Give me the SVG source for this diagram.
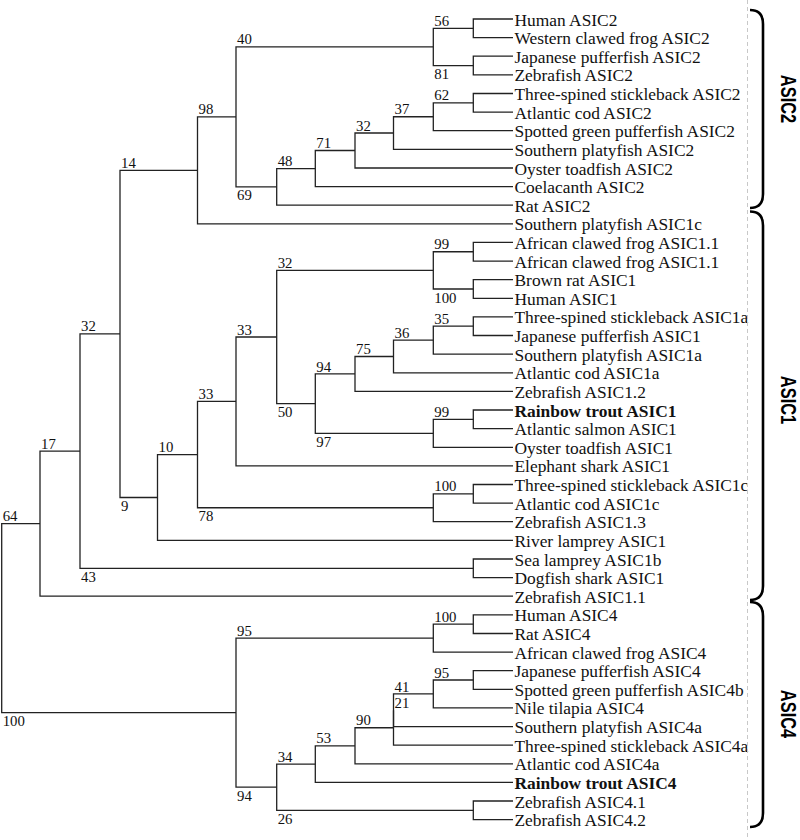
<svg xmlns="http://www.w3.org/2000/svg" width="800" height="840" viewBox="0 0 800 840">
<style>
.t{font-family:"Liberation Serif","Times New Roman",serif;font-size:17.4px;fill:#111}
.b{font-weight:bold}
.n{font-family:"Liberation Serif","Times New Roman",serif;font-size:14.8px;fill:#111}
.e{fill:none;stroke:#222;stroke-width:1.3}
.br{fill:none;stroke:#000;stroke-width:2.6}
.g{font-family:"Liberation Sans",Arial,sans-serif;font-weight:bold;font-size:16.4px;fill:#000}
</style>
<rect width="800" height="840" fill="#fff"/>
<g id="connectors">
<path class="e" d="M513,19 H473.3 V37.6 H513"/>
<path class="e" d="M513,56.2 H473.3 V74.9 H513"/>
<path class="e" d="M473.3,28.3 H433.3 V65.55 H473.3"/>
<path class="e" d="M513,93.5 H473.3 V112.1 H513"/>
<path class="e" d="M473.3,102.8 H433.3 V130.7 H513"/>
<path class="e" d="M433.3,116.75 H393.5 V149.3 H513"/>
<path class="e" d="M393.5,133 H355 V168 H513"/>
<path class="e" d="M355,150.5 H315.3 V186.6 H513"/>
<path class="e" d="M315.3,168.55 H276.7 V205.2 H513"/>
<path class="e" d="M433.3,46.9 H236 V186.9 H276.7"/>
<path class="e" d="M236,116.9 H197.5 V223.8 H513"/>
<path class="e" d="M513,242.4 H473.3 V261.1 H513"/>
<path class="e" d="M513,279.7 H473.3 V298.3 H513"/>
<path class="e" d="M473.3,251.75 H433.3 V289 H473.3"/>
<path class="e" d="M513,316.9 H473.3 V335.5 H513"/>
<path class="e" d="M473.3,326.2 H433.3 V354.2 H513"/>
<path class="e" d="M433.3,340.2 H393.5 V372.8 H513"/>
<path class="e" d="M393.5,356.5 H355 V391.4 H513"/>
<path class="e" d="M513,410 H473.3 V428.6 H513"/>
<path class="e" d="M473.3,419.3 H433.3 V447.3 H513"/>
<path class="e" d="M355,373.95 H315.3 V433.3 H433.3"/>
<path class="e" d="M433.3,270.4 H276.7 V403.6 H315.3"/>
<path class="e" d="M276.7,337 H236 V465.9 H513"/>
<path class="e" d="M513,484.5 H473.3 V503.1 H513"/>
<path class="e" d="M473.3,493.8 H433.3 V521.7 H513"/>
<path class="e" d="M236,401.45 H197.5 V507.75 H433.3"/>
<path class="e" d="M197.5,454.6 H157.5 V540.4 H513"/>
<path class="e" d="M197.5,170.35 H120 V497.5 H157.5"/>
<path class="e" d="M513,559 H473.3 V577.6 H513"/>
<path class="e" d="M120,333.9 H80 V568.3 H473.3"/>
<path class="e" d="M80,451.1 H40 V596.2 H513"/>
<path class="e" d="M513,614.8 H473.3 V633.5 H513"/>
<path class="e" d="M473.3,624.15 H433.3 V652.1 H513"/>
<path class="e" d="M513,670.7 H473.3 V689.3 H513"/>
<path class="e" d="M473.3,680 H433.3 V707.9 H513"/>
<path class="e" d="M433.3,693.95 H393.5 V726.6 H513"/>
<path class="e" d="M393.5,710.3 V745.2 H513"/>
<path class="e" d="M393.5,727.75 H355 V763.8 H513"/>
<path class="e" d="M355,745.8 H315.3 V782.4 H513"/>
<path class="e" d="M513,801 H473.3 V819.7 H513"/>
<path class="e" d="M315.3,764.1 H276.7 V810.35 H473.3"/>
<path class="e" d="M433.3,638.1 H236 V787.2 H276.7"/>
<path class="e" d="M40,523.65 H1.7 V712.65 H236"/>
</g>
<g id="support">
<text class="n" x="434.3" y="25.8">56</text>
<text class="n" x="434.3" y="79">81</text>
<text class="n" x="237" y="44.4">40</text>
<text class="n" x="237" y="200.4">69</text>
<text class="n" x="198.5" y="114.4">98</text>
<text class="n" x="121" y="167.9">14</text>
<text class="n" x="277.7" y="166">48</text>
<text class="n" x="316.3" y="148">71</text>
<text class="n" x="356" y="130.5">32</text>
<text class="n" x="394.5" y="114.3">37</text>
<text class="n" x="434.3" y="100.3">62</text>
<text class="n" x="81" y="331.4">32</text>
<text class="n" x="41" y="448.6">17</text>
<text class="n" x="2.7" y="521.1">64</text>
<text class="n" x="2.7" y="726">100</text>
<text class="n" x="81" y="581.8">43</text>
<text class="n" x="121" y="511">9</text>
<text class="n" x="158.5" y="452.1">10</text>
<text class="n" x="198.5" y="521.3">78</text>
<text class="n" x="198.5" y="399">33</text>
<text class="n" x="237" y="334.5">33</text>
<text class="n" x="277.7" y="267.9">32</text>
<text class="n" x="277.7" y="417.1">50</text>
<text class="n" x="434.3" y="249.3">99</text>
<text class="n" x="434.3" y="302.5">100</text>
<text class="n" x="316.3" y="371.5">94</text>
<text class="n" x="316.3" y="446.8">97</text>
<text class="n" x="356" y="354">75</text>
<text class="n" x="394.5" y="337.7">36</text>
<text class="n" x="434.3" y="323.7">35</text>
<text class="n" x="434.3" y="416.8">99</text>
<text class="n" x="434.3" y="491.3">100</text>
<text class="n" x="237" y="635.6">95</text>
<text class="n" x="237" y="800.7">94</text>
<text class="n" x="434.3" y="621.7">100</text>
<text class="n" x="277.7" y="761.6">34</text>
<text class="n" x="277.7" y="823.9">26</text>
<text class="n" x="316.3" y="743.3">53</text>
<text class="n" x="356" y="725.3">90</text>
<text class="n" x="394.5" y="691.5">41</text>
<text class="n" x="394.5" y="708">21</text>
<text class="n" x="434.3" y="677.5">95</text>
</g>
<g id="leaves">
<g id="leaf01"><text class="t" x="514.5" y="25.5">Human ASIC2</text></g>
<g id="leaf02"><text class="t" x="514.5" y="44.1">Western clawed frog ASIC2</text></g>
<g id="leaf03"><text class="t" x="514.5" y="62.7">Japanese pufferfish ASIC2</text></g>
<g id="leaf04"><text class="t" x="514.5" y="81.4">Zebrafish ASIC2</text></g>
<g id="leaf05"><text class="t" x="514.5" y="100">Three-spined stickleback ASIC2</text></g>
<g id="leaf06"><text class="t" x="514.5" y="118.6">Atlantic cod ASIC2</text></g>
<g id="leaf07"><text class="t" x="514.5" y="137.2">Spotted green pufferfish ASIC2</text></g>
<g id="leaf08"><text class="t" x="514.5" y="155.8">Southern platyfish ASIC2</text></g>
<g id="leaf09"><text class="t" x="514.5" y="174.5">Oyster toadfish ASIC2</text></g>
<g id="leaf10"><text class="t" x="514.5" y="193.1">Coelacanth ASIC2</text></g>
<g id="leaf11"><text class="t" x="514.5" y="211.7">Rat ASIC2</text></g>
<g id="leaf12"><text class="t" x="514.5" y="230.3">Southern platyfish ASIC1c</text></g>
<g id="leaf13"><text class="t" x="514.5" y="248.9">African clawed frog ASIC1.1</text></g>
<g id="leaf14"><text class="t" x="514.5" y="267.6">African clawed frog ASIC1.1</text></g>
<g id="leaf15"><text class="t" x="514.5" y="286.2">Brown rat ASIC1</text></g>
<g id="leaf16"><text class="t" x="514.5" y="304.8">Human ASIC1</text></g>
<g id="leaf17"><text class="t" x="514.5" y="323.4">Three-spined stickleback ASIC1a</text></g>
<g id="leaf18"><text class="t" x="514.5" y="342">Japanese pufferfish ASIC1</text></g>
<g id="leaf19"><text class="t" x="514.5" y="360.7">Southern platyfish ASIC1a</text></g>
<g id="leaf20"><text class="t" x="514.5" y="379.3">Atlantic cod ASIC1a</text></g>
<g id="leaf21"><text class="t" x="514.5" y="397.9">Zebrafish ASIC1.2</text></g>
<g id="leaf22"><text class="t b" x="514.5" y="416.5">Rainbow trout ASIC1</text></g>
<g id="leaf23"><text class="t" x="514.5" y="435.1">Atlantic salmon ASIC1</text></g>
<g id="leaf24"><text class="t" x="514.5" y="453.8">Oyster toadfish ASIC1</text></g>
<g id="leaf25"><text class="t" x="514.5" y="472.4">Elephant shark ASIC1</text></g>
<g id="leaf26"><text class="t" x="514.5" y="491">Three-spined stickleback ASIC1c</text></g>
<g id="leaf27"><text class="t" x="514.5" y="509.6">Atlantic cod ASIC1c</text></g>
<g id="leaf28"><text class="t" x="514.5" y="528.2">Zebrafish ASIC1.3</text></g>
<g id="leaf29"><text class="t" x="514.5" y="546.9">River lamprey ASIC1</text></g>
<g id="leaf30"><text class="t" x="514.5" y="565.5">Sea lamprey ASIC1b</text></g>
<g id="leaf31"><text class="t" x="514.5" y="584.1">Dogfish shark ASIC1</text></g>
<g id="leaf32"><text class="t" x="514.5" y="602.7">Zebrafish ASIC1.1</text></g>
<g id="leaf33"><text class="t" x="514.5" y="621.3">Human ASIC4</text></g>
<g id="leaf34"><text class="t" x="514.5" y="640">Rat ASIC4</text></g>
<g id="leaf35"><text class="t" x="514.5" y="658.6">African clawed frog ASIC4</text></g>
<g id="leaf36"><text class="t" x="514.5" y="677.2">Japanese pufferfish ASIC4</text></g>
<g id="leaf37"><text class="t" x="514.5" y="695.8">Spotted green pufferfish ASIC4b</text></g>
<g id="leaf38"><text class="t" x="514.5" y="714.4">Nile tilapia ASIC4</text></g>
<g id="leaf39"><text class="t" x="514.5" y="733.1">Southern platyfish ASIC4a</text></g>
<g id="leaf40"><text class="t" x="514.5" y="751.7">Three-spined stickleback ASIC4a</text></g>
<g id="leaf41"><text class="t" x="514.5" y="770.3">Atlantic cod ASIC4a</text></g>
<g id="leaf42"><text class="t b" x="514.5" y="788.9">Rainbow trout ASIC4</text></g>
<g id="leaf43"><text class="t" x="514.5" y="807.5">Zebrafish ASIC4.1</text></g>
<g id="leaf44"><text class="t" x="514.5" y="826.2">Zebrafish ASIC4.2</text></g>
</g>
<g id="groups">
<line x1="747.5" y1="0" x2="747.5" y2="840" stroke="#c8c8c8" stroke-width="1" stroke-dasharray="4,3"/>
<g id="group-asic2">
<path class="br" d="M750,10 C759,10 763,15 763,24 V194 C763,203 759,208 750,208"/>
<text class="g" text-anchor="middle" transform="translate(781,99) rotate(90) scale(1,1.33)">ASIC2</text>
</g>
<g id="group-asic1">
<path class="br" d="M750,211.5 C759,211.5 763,216.5 763,225.5 V586 C763,595 759,600 750,600"/>
<text class="g" text-anchor="middle" transform="translate(781,400) rotate(90) scale(1,1.33)">ASIC1</text>
</g>
<g id="group-asic4">
<path class="br" d="M750,602 C759,602 763,607 763,616 V813 C763,822 759,827 750,827"/>
<text class="g" text-anchor="middle" transform="translate(781,714) rotate(90) scale(1,1.33)">ASIC4</text>
</g>
</g>
</svg>
